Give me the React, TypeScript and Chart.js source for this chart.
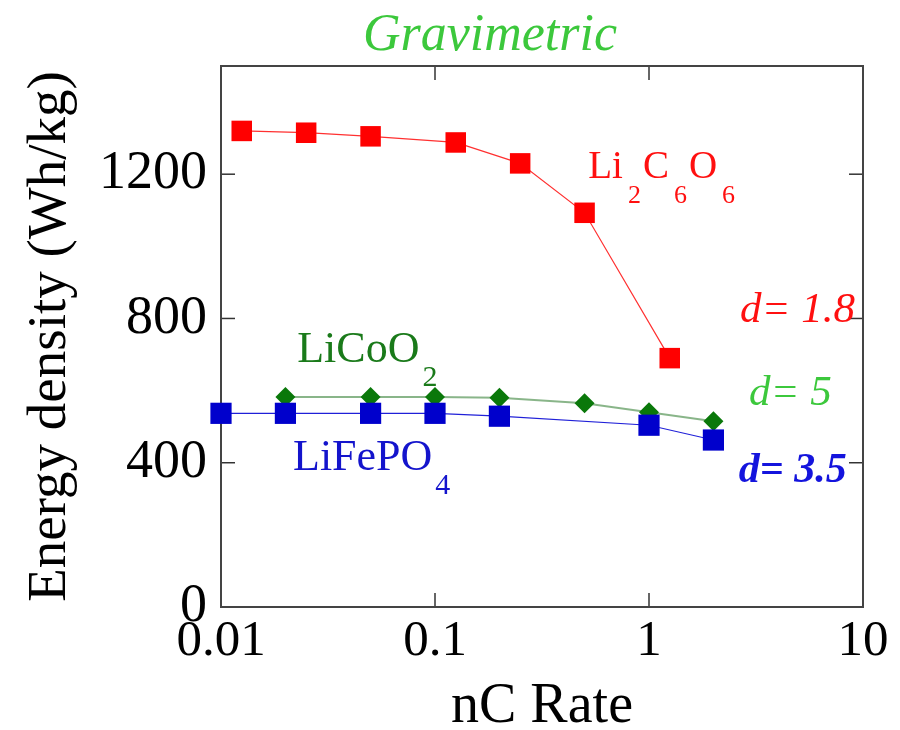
import { useEffect, useRef } from "react";
import { Chart, registerables } from "chart.js";
Chart.register(...registerables);

// ---- data ----
const rateLi2C6O6 = [0.0125, 0.025, 0.05, 0.125, 0.25, 0.5, 1.25];
const energyLi2C6O6 = [1320, 1315, 1305, 1288, 1230, 1093, 690];

const rateLiCoO2 = [0.02, 0.05, 0.1, 0.2, 0.5, 1, 2];
const energyLiCoO2 = [582, 582, 582, 580, 565, 540, 515];

const rateLiFePO4 = [0.01, 0.02, 0.05, 0.1, 0.2, 1, 2];
const energyLiFePO4 = [537, 537, 537, 537, 529, 504, 463];

const xTickValues = [0.01, 0.1, 1, 10];
const xTickLabels = ["0.01", "0.1", "1", "10"];
const yTickValues = [0, 400, 800, 1200];
const yTickLabels = ["0", "400", "800", "1200"];

const chartTitle = "Gravimetric";
const xAxisTitle = "nC Rate";
const yAxisTitle = "Energy density (Wh/kg)";

const SERIF = "'Liberation Serif', 'DejaVu Serif', serif";

type Part = [string, string];

export default function App() {
  const ref = useRef<HTMLCanvasElement>(null);

  useEffect(() => {
    document.body.style.margin = "0";
    const canvas = ref.current;
    if (!canvas) return;

    const toXY = (xs: number[], ys: number[]) => xs.map((x, i) => ({ x, y: ys[i] }));

    const framePlugin = {
      id: "frame",
      beforeDatasetsDraw(chart: any) {
        const { ctx, chartArea, scales } = chart;
        const { left, right, top, bottom } = chartArea;
        const line = (x1: number, y1: number, x2: number, y2: number) => {
          ctx.beginPath();
          ctx.moveTo(x1, y1);
          ctx.lineTo(x2, y2);
          ctx.stroke();
        };
        ctx.save();
        ctx.strokeStyle = "#333";
        ctx.lineWidth = 1.5;
        const tl = 14;
        for (const v of xTickValues) {
          const px = scales.x.getPixelForValue(v);
          if (px <= left + 1 || px >= right - 1) continue;
          line(px, bottom, px, bottom - tl);
          line(px, top, px, top + tl);
        }
        for (const v of yTickValues) {
          const py = scales.y.getPixelForValue(v);
          if (py >= bottom - 1 || py <= top + 1) continue;
          line(left, py, left + tl, py);
          line(right, py, right - tl, py);
        }
        ctx.strokeStyle = "#444";
        ctx.lineWidth = 2;
        ctx.strokeRect(left, top, right - left, bottom - top);
        ctx.restore();
      },
    };

    const textPlugin = {
      id: "texts",
      afterDraw(chart: any) {
        const { ctx, scales } = chart;
        const X = (v: number) => scales.x.getPixelForValue(v);
        const Y = (v: number) => scales.y.getPixelForValue(v);
        const formula = (
          parts: Part[],
          x: number,
          y: number,
          size: number,
          subSize: number,
          subDrop: number,
          gap: number,
          color: string
        ) => {
          ctx.save();
          ctx.fillStyle = color;
          ctx.textAlign = "left";
          ctx.textBaseline = "alphabetic";
          let cx = x;
          for (const [main, sub] of parts) {
            ctx.font = `${size}px ${SERIF}`;
            ctx.fillText(main, cx, y);
            cx += ctx.measureText(main).width + gap;
            if (sub) {
              ctx.font = `${subSize}px ${SERIF}`;
              ctx.fillText(sub, cx, y + subDrop);
              cx += ctx.measureText(sub).width + 2;
            }
          }
          ctx.restore();
        };
        const plain = (t: string, x: number, y: number, font: string, color: string, align = "left") => {
          ctx.save();
          ctx.fillStyle = color;
          ctx.font = font;
          ctx.textAlign = align;
          ctx.textBaseline = "alphabetic";
          ctx.fillText(t, x, y);
          ctx.restore();
        };

        // title
        plain(chartTitle, 490, 50, `italic 52px ${SERIF}`, "#3cc83c", "center");

        // series labels
        formula([["Li", "2"], ["C", "6"], ["O", "6"]], X(0.52), Y(1190), 39, 26, 25, 5, "#ff1010");
        formula([["LiCoO", "2"]], X(0.0227), Y(679), 44, 30, 24, 3, "#1a7a1a");
        formula([["LiFePO", "4"]], X(0.0217), Y(380), 44, 30, 24, 3, "#1414cc");

        // densities
        plain("d= 1.8", X(2.66), Y(789), `italic 43px ${SERIF}`, "#ff1010");
        plain("d= 5", X(2.93), Y(560), `italic 43px ${SERIF}`, "#3cc83c");
        plain("d= 3.5", X(2.63), Y(346), `italic bold 42px ${SERIF}`, "#1414dd");
      },
    };

    const chart = new Chart(canvas, {
      type: "line",
      data: {
        datasets: [
          {
            label: "LiFePO4",
            data: toXY(rateLiFePO4, energyLiFePO4),
            borderColor: "#2020d8",
            borderWidth: 1.2,
            backgroundColor: "#0000cc",
            pointBackgroundColor: "#0000cc",
            pointBorderWidth: 0,
            pointStyle: "rect",
            pointRadius: 15,
            clip: false,
          },
          {
            label: "LiCoO2",
            data: toXY(rateLiCoO2, energyLiCoO2),
            borderColor: "rgba(40,120,40,0.55)",
            borderWidth: 2,
            backgroundColor: "#0a780a",
            pointBackgroundColor: "#0a780a",
            pointBorderWidth: 0,
            pointStyle: "rectRot",
            pointRadius: 10,
            clip: false,
          },
          {
            label: "Li2C6O6",
            data: toXY(rateLi2C6O6, energyLi2C6O6),
            borderColor: "#ff3030",
            borderWidth: 1.2,
            backgroundColor: "#ff0000",
            pointBackgroundColor: "#ff0000",
            pointBorderWidth: 0,
            pointStyle: "rect",
            pointRadius: 14.5,
            clip: false,
          },
        ],
      },
      options: {
        responsive: false,
        animation: false,
        events: [],
        layout: { padding: { top: 66, right: 37, left: 0, bottom: 0 } },
        plugins: {
          legend: { display: false },
          tooltip: { enabled: false },
          title: { display: false },
        },
        scales: {
          x: {
            type: "logarithmic",
            min: 0.01,
            max: 10,
            afterBuildTicks: (s: any) => {
              s.ticks = xTickValues.map((v) => ({ value: v }));
            },
            afterFit: (s: any) => {
              s.height = 123;
            },
            grid: { display: false, drawTicks: false },
            border: { display: false },
            ticks: {
              autoSkip: false,
              maxRotation: 0,
              padding: 4,
              color: "#000",
              font: { family: SERIF, size: 51 },
              callback: (v: any) => {
                const i = xTickValues.findIndex((t) => Math.abs(t - Number(v)) < 1e-9);
                return i >= 0 ? xTickLabels[i] : "";
              },
            },
            title: {
              display: true,
              text: xAxisTitle,
              color: "#000",
              font: { family: SERIF, size: 56, lineHeight: 1 },
              padding: { top: 0, bottom: -5 },
            },
          },
          y: {
            type: "linear",
            min: 0,
            max: 1500,
            afterBuildTicks: (s: any) => {
              s.ticks = yTickValues.map((v) => ({ value: v }));
            },
            afterFit: (s: any) => {
              s.width = 221;
            },
            grid: { display: false, drawTicks: false },
            border: { display: false },
            ticks: {
              padding: 14,
              color: "#000",
              font: { family: SERIF, size: 54 },
              callback: (v: any) => {
                const i = yTickValues.findIndex((t) => Math.abs(t - Number(v)) < 1e-9);
                return i >= 0 ? yTickLabels[i] : "";
              },
            },
            title: {
              display: true,
              text: yAxisTitle,
              color: "#000",
              font: { family: SERIF, size: 55, lineHeight: 1 },
              padding: { top: 23, bottom: 0 },
            },
          },
        },
      },
      plugins: [framePlugin, textPlugin],
    } as any);

    return () => chart.destroy();
  }, []);

  return (
    <div style={{ width: 900, height: 730, background: "#fff" }}>
      <canvas ref={ref} width={900} height={730} />
    </div>
  );
}
